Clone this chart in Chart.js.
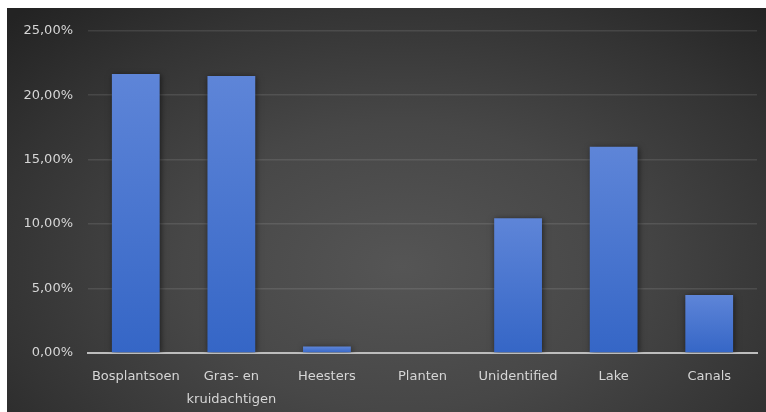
<!DOCTYPE html>
<html>
<head>
<meta charset="utf-8">
<script src="https://cdn.jsdelivr.net/npm/chart.js@4/dist/chart.umd.min.js"></script>
<style>
  html, body { margin: 0; padding: 0; background: #fff; }
  #panel {
    position: absolute; left: 7px; top: 8px; width: 759px; height: 404px;
    background: radial-gradient(ellipse 72% 88% at 52% 64%, #555555 0%, #474747 40%, #333333 75%, #232323 100%);
  }
</style>
</head>
<body>
<div id="panel"><canvas id="shareChart" width="759" height="404"></canvas></div>
<script>
// categories and share per category (percent)
const categories = ['Bosplantsoen', ['Gras- en', 'kruidachtigen'], 'Heesters', 'Planten', 'Unidentified', 'Lake', 'Canals'];
const shares = [21.65, 21.5, 0.5, 0, 10.45, 16.0, 4.5];
const yTicks = [0, 5, 10, 15, 20, 25];

const ctx = document.getElementById('shareChart').getContext('2d');

// per-bar vertical gradient, lighter on top
function barFill(context) {
  const chart = context.chart;
  if (!chart.chartArea || context.parsed === undefined) return '#4472c4';
  const yScale = chart.scales.y;
  const top = yScale.getPixelForValue(context.parsed.y);
  const bottom = yScale.getPixelForValue(0);
  if (bottom - top < 1) return '#4a74cc';
  const g = chart.ctx.createLinearGradient(0, top, 0, bottom);
  g.addColorStop(0, '#5e85d8');
  g.addColorStop(1, '#3566c6');
  return g;
}

// soft dark shadow under the bars
const barShadow = {
  id: 'barShadow',
  beforeDatasetsDraw(chart) {
    const c = chart.ctx;
    c.save();
    c.shadowColor = 'rgba(0,0,0,0.55)';
    c.shadowBlur = 6;
    c.shadowOffsetX = 1;
    c.shadowOffsetY = 1;
  },
  afterDatasetsDraw(chart) {
    chart.ctx.restore();
  }
};

const shareChart = new Chart(ctx, {
  type: 'bar',
  data: {
    labels: categories,
    datasets: [{
      data: shares,
      backgroundColor: barFill,
      borderWidth: 0,
      categoryPercentage: 1,
      barPercentage: 0.5
    }]
  },
  plugins: [barShadow],
  options: {
    responsive: false,
    animation: false,
    layout: { padding: { top: 22, right: 9, left: 0, bottom: 0 } },
    plugins: {
      legend: { display: false },
      tooltip: { enabled: false }
    },
    scales: {
      x: {
        grid: { display: false, drawTicks: false },
        border: { color: '#bdbdbd', width: 2 },
        ticks: {
          color: '#d6d6d6',
          font: { family: 'DejaVu Sans', size: 13, lineHeight: 1.7 },
          padding: 13,
          maxRotation: 0,
          autoSkip: false
        },
        afterFit(scale) { scale.height = 59; }
      },
      y: {
        min: 0,
        max: 25,
        afterBuildTicks(scale) { scale.ticks = yTicks.map(v => ({ value: v })); },
        grid: { color: 'rgba(255,255,255,0.1)', lineWidth: 1.5, drawTicks: false },
        border: { display: false },
        ticks: {
          color: '#d6d6d6',
          font: { family: 'DejaVu Sans', size: 13 },
          padding: 15,
          callback: (v) => v.toFixed(2).replace('.', ',') + '%'
        },
        afterFit(scale) { scale.width = 81; }
      }
    }
  }
});
</script>
</body>
</html>
